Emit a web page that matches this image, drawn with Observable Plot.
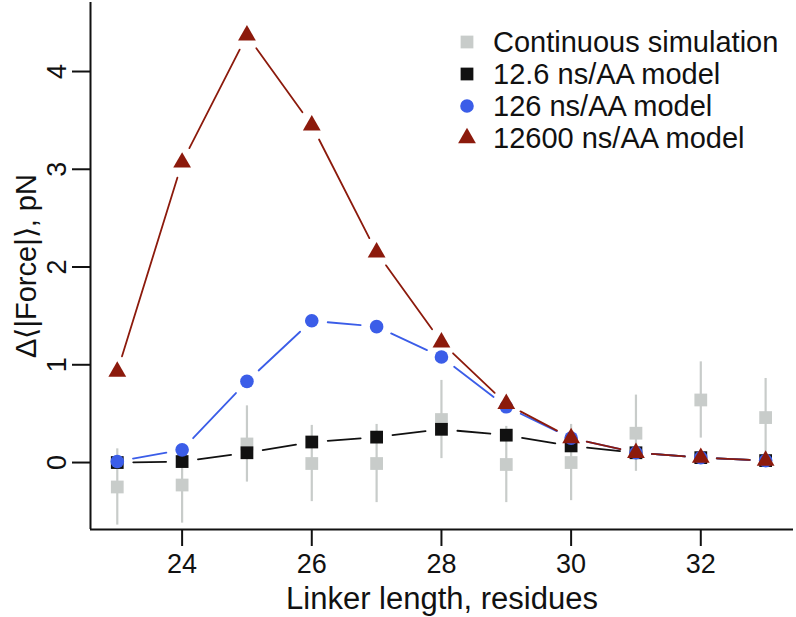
<!DOCTYPE html>
<html>
<head>
<meta charset="utf-8">
<script src="https://cdn.jsdelivr.net/npm/d3@7"></script>
<script src="https://cdn.jsdelivr.net/npm/@observablehq/plot@0.6"></script>
<style>
  html, body { margin: 0; padding: 0; background: #fff; }
  #wrap { position: relative; width: 796px; height: 617px; font-family: "Liberation Sans", Arial, sans-serif; }
  .leg { position: absolute; display: flex; align-items: center; font-size: 29px; color: #111; white-space: nowrap; }
</style>
</head>
<body>
<div id="wrap"></div>
<script>
// ---- data ----
const linker = [23, 24, 25, 26, 27, 28, 29, 30, 31, 32, 33];
const continuous = [-0.25, -0.23, 0.19, -0.01, -0.01, 0.44, -0.02, 0.00, 0.30, 0.64, 0.46];
const continuousErr = [0.39, 0.39, 0.39, 0.39, 0.40, 0.40, 0.39, 0.39, 0.39, 0.39, 0.40];
const model12_6 = [0.00, 0.01, 0.10, 0.21, 0.26, 0.34, 0.28, 0.17, 0.10, 0.05, 0.02];
const model126 = [0.01, 0.13, 0.83, 1.45, 1.39, 1.08, 0.57, 0.25, 0.10, 0.05, 0.02];
const model12600 = [0.93, 3.07, 4.37, 3.45, 2.15, 1.23, 0.60, 0.25, 0.10, 0.05, 0.02];
const seriesNames = ["Continuous simulation", "12.6 ns/AA model", "126 ns/AA model", "12600 ns/AA model"];
const seriesColors = ["#c8ccca", "#111111", "#3b5de8", "#8c1a0c"];
const seriesSymbols = ["square", "square", "circle", "triangle"];
const xTicks = [24, 26, 28, 30, 32];
const yTicks = [0, 1, 2, 3, 4];
const xLabel = "Linker length, residues";
const yLabel = "Δ⟨|Force|⟩, pN";

// ---- tables ----
const contRows = linker.map((x, i) => ({x, y: continuous[i], lo: continuous[i] - continuousErr[i], hi: continuous[i] + continuousErr[i]}));
const rows = (vals) => linker.map((x, i) => ({x, y: vals[i]}));
const segs = (vals) => linker.slice(1).map((x, i) => ({x1: linker[i], y1: vals[i], x2: x, y2: vals[i + 1]}));

const xDomain = [22.587, 33.43];
const yDomain = [-0.685, 4.706];
const inset = 16;

const plot = Plot.plot({
  width: 796,
  height: 617,
  marginLeft: 90,
  marginRight: 3,
  marginTop: 2,
  marginBottom: 88,
  style: {fontFamily: "'Liberation Sans', Arial, sans-serif", background: "#fff", color: "#111"},
  x: {domain: xDomain},
  y: {domain: yDomain},
  marks: [
    // continuous simulation
    Plot.ruleX(contRows, {x: "x", y1: "lo", y2: "hi", stroke: seriesColors[0], strokeWidth: 2.2}),
    Plot.dot(contRows, {x: "x", y: "y", symbol: "square", r: 7.2, fill: seriesColors[0]}),
    // 12.6 ns/AA
    Plot.arrow(segs(model12_6), {x1: "x1", y1: "y1", x2: "x2", y2: "y2", headLength: 0, insetStart: inset, insetEnd: inset, stroke: seriesColors[1], strokeWidth: 1.8}),
    Plot.dot(rows(model12_6), {x: "x", y: "y", symbol: "square", r: 7.2, fill: seriesColors[1]}),
    // 126 ns/AA
    Plot.arrow(segs(model126), {x1: "x1", y1: "y1", x2: "x2", y2: "y2", headLength: 0, insetStart: inset, insetEnd: inset, stroke: seriesColors[2], strokeWidth: 1.8}),
    Plot.dot(rows(model126), {x: "x", y: "y", symbol: "circle", r: 6.8, fill: seriesColors[2]}),
    // 12600 ns/AA
    Plot.arrow(segs(model12600), {x1: "x1", y1: "y1", x2: "x2", y2: "y2", headLength: 0, insetStart: inset, insetEnd: inset, stroke: seriesColors[3], strokeWidth: 1.8}),
    Plot.dot(rows(model12600), {x: "x", y: "y", symbol: "triangle", r: 6.6, fill: seriesColors[3]}),
    // axes
    Plot.ruleY([yDomain[0]], {stroke: "#111", strokeWidth: 2}),
    Plot.ruleX([xDomain[0]], {stroke: "#111", strokeWidth: 2}),
    Plot.axisX({ticks: xTicks, tickSize: 17, tickPadding: 7, fontSize: 27, strokeWidth: 2, label: null, tickFormat: d => String(d)}),
    Plot.axisY({ticks: yTicks, tickSize: 18, strokeWidth: 2, label: null, tickFormat: () => ""}),
    Plot.text(yTicks, {y: d => d, text: d => String(d), frameAnchor: "left", rotate: -90, dx: -25, textAnchor: "middle", lineAnchor: "bottom", fontSize: 27, fill: "#111"}),
    Plot.text([yLabel], {text: d => d, frameAnchor: "left", rotate: -90, dx: -64, textAnchor: "middle", lineAnchor: "middle", fontSize: 29, fill: "#111"}),
    Plot.text([xLabel], {text: d => d, frameAnchor: "bottom", dy: 70, textAnchor: "middle", lineAnchor: "middle", fontSize: 31, fill: "#111"})
  ]
});

const wrap = document.getElementById("wrap");
wrap.appendChild(plot);

// ---- legend (HTML overlay, top right inside the plot) ----
const legTop = [42, 74, 106, 138];
const symbolSize = [7.2, 7.2, 6.8, 6.6];
seriesNames.forEach((name, i) => {
  const div = document.createElement("div");
  div.className = "leg";
  div.style.left = "454px";
  div.style.top = (legTop[i] - 16) + "px";
  div.style.height = "32px";
  const s = d3.create("svg").attr("width", 26).attr("height", 26).style("margin-right", "13px");
  const sym = {square: d3.symbolSquare, circle: d3.symbolCircle, triangle: d3.symbolTriangle}[seriesSymbols[i]];
  const r = symbolSize[i];
  s.append("path").attr("transform", "translate(13,13)")
    .attr("d", d3.symbol(sym, Math.PI * r * r)())
    .attr("fill", seriesColors[i]);
  div.appendChild(s.node());
  const t = document.createElement("span");
  t.textContent = name;
  div.appendChild(t);
  wrap.appendChild(div);
});
</script>
</body>
</html>
